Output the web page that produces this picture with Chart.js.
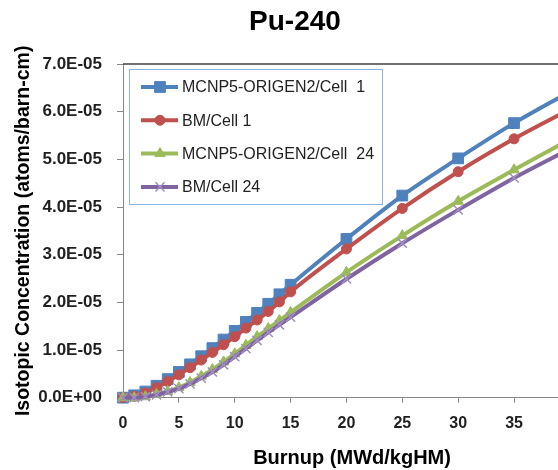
<!DOCTYPE html>
<html>
<head>
<meta charset="utf-8">
<script src="https://cdn.jsdelivr.net/npm/chart.js@4"></script>
<style>
  html, body { margin: 0; padding: 0; background: #fff; overflow: hidden; }
  #wrap { width: 590px; height: 470px; }
</style>
</head>
<body>
<div id="wrap"><canvas id="grafico" width="590" height="470"></canvas></div>
<script>
// Burnup (MWd/kgHM)
const burnup = [0, 1, 2, 3, 4, 5, 6, 7, 8, 9, 10, 11, 12, 13, 14, 15, 20, 25, 30, 35, 40];

// Pu-240 (atoms/barn-cm)
const mcnpCell1 = [0, 0.05e-5, 0.13e-5, 0.25e-5, 0.39e-5, 0.54e-5, 0.70e-5, 0.87e-5, 1.04e-5, 1.22e-5, 1.40e-5,
                   1.59e-5, 1.78e-5, 1.97e-5, 2.17e-5, 2.37e-5, 3.33e-5, 4.24e-5, 5.02e-5, 5.76e-5, 6.42e-5];
const bmCell1 = [0, 0.03e-5, 0.10e-5, 0.21e-5, 0.34e-5, 0.48e-5, 0.63e-5, 0.79e-5, 0.95e-5, 1.11e-5, 1.28e-5,
                 1.46e-5, 1.63e-5, 1.81e-5, 2.01e-5, 2.22e-5, 3.12e-5, 3.97e-5, 4.74e-5, 5.43e-5, 6.05e-5];
const mcnpCell24 = [0, 0.00e-5, 0.02e-5, 0.07e-5, 0.13e-5, 0.21e-5, 0.32e-5, 0.45e-5, 0.59e-5, 0.75e-5, 0.92e-5,
                    1.10e-5, 1.28e-5, 1.45e-5, 1.62e-5, 1.79e-5, 2.63e-5, 3.40e-5, 4.12e-5, 4.78e-5, 5.42e-5];
const bmCell24 = [0, 0.00e-5, 0.02e-5, 0.06e-5, 0.12e-5, 0.19e-5, 0.29e-5, 0.41e-5, 0.54e-5, 0.69e-5, 0.86e-5,
                  1.03e-5, 1.20e-5, 1.37e-5, 1.53e-5, 1.69e-5, 2.49e-5, 3.24e-5, 3.94e-5, 4.61e-5, 5.22e-5];

const nomesSeries = ["MCNP5-ORIGEN2/Cell  1", "BM/Cell 1", "MCNP5-ORIGEN2/Cell  24", "BM/Cell 24"];

const FONTE = "'Liberation Sans', Arial, sans-serif";

function pontos(valores) {
    return burnup.map((b, i) => ({ x: b, y: valores[i] }));
}

// 7.0E-05 style
function formatarExp(v) {
    if (v === 0) return "0.0E+00";
    let exp = Math.floor(Math.log10(Math.abs(v)) + 1e-9);
    let mant = v / Math.pow(10, exp);
    let sinal = exp < 0 ? "-" : "+";
    return mant.toFixed(1) + "E" + sinal + String(Math.abs(exp)).padStart(2, "0");
}

// top border of the plot area
const bordaTopo = {
    id: "bordaTopo",
    beforeDatasetsDraw(chart) {
        const { ctx, chartArea } = chart;
        ctx.save();
        ctx.strokeStyle = "#404040";
        ctx.lineWidth = 1.5;
        ctx.beginPath();
        ctx.moveTo(chartArea.left, chartArea.top);
        ctx.lineTo(chartArea.right, chartArea.top);
        ctx.stroke();
        ctx.restore();
    }
};

// legend box inside the plot, Excel style
const legendaCaixa = {
    id: "legendaCaixa",
    afterDraw(chart) {
        const ctx = chart.ctx;
        const x0 = 129, y0 = 69, w = 253, h = 135;
        ctx.save();
        ctx.fillStyle = "#fff";
        ctx.fillRect(x0, y0, w, h);
        ctx.strokeStyle = "#8eb4e3";
        ctx.lineWidth = 1;
        ctx.strokeRect(x0 + 0.5, y0 + 0.5, w, h);
        chart.data.datasets.forEach((ds, i) => {
            const y = 87 + i * 33.3;
            ctx.strokeStyle = ds.borderColor;
            ctx.lineWidth = ds.borderWidth;
            ctx.beginPath();
            ctx.moveTo(141, y);
            ctx.lineTo(178, y);
            ctx.stroke();
            ctx.fillStyle = ds.pointBackgroundColor;
            ctx.strokeStyle = ds.pointBorderColor;
            ctx.lineWidth = ds.pointBorderWidth;
            Chart.helpers.drawPoint(ctx, {
                pointStyle: ds.pointStyle, radius: ds.pointRadius, rotation: 0, borderWidth: ds.pointBorderWidth
            }, 160, y);
            ctx.fillStyle = "#222";
            ctx.font = "16px " + FONTE;
            ctx.textBaseline = "middle";
            ctx.textAlign = "left";
            ctx.fillText(nomesSeries[i], 182, y + 1);
        });
        ctx.restore();
    }
};

function serie(nome, valores, cor, estilo, raio, corPonto, larguraPonto, ordem) {
    return {
        label: nome,
        data: pontos(valores),
        borderColor: cor,
        backgroundColor: cor,
        borderWidth: 4,
        pointStyle: estilo,
        pointRadius: raio,
        pointBackgroundColor: corPonto,
        pointBorderColor: corPonto,
        pointBorderWidth: larguraPonto,
        cubicInterpolationMode: "monotone",
        clip: { left: 12, top: 12, right: 0, bottom: 12 },
        order: ordem
    };
}

new Chart(document.getElementById("grafico"), {
    type: "line",
    data: {
        datasets: [
            serie(nomesSeries[0], mcnpCell1, "#4f81bd", "rect", 7.6, "#4f81bd", 1, 4),
            serie(nomesSeries[1], bmCell1, "#c0504d", "circle", 5, "#c0504d", 1, 3),
            serie(nomesSeries[2], mcnpCell24, "#9bbb59", "triangle", 6, "#9bbb59", 1, 2),
            serie(nomesSeries[3], bmCell24, "#8064a2", "crossRot", 6.5, "#a08ec2", 1.5, 1)
        ]
    },
    options: {
        responsive: false,
        animation: false,
        layout: { padding: 0 },
        plugins: {
            legend: { display: false },
            tooltip: { enabled: false },
            title: {
                display: true,
                text: "Pu-240",
                color: "#000",
                font: { family: FONTE, size: 28, weight: "bold", lineHeight: 1.2 },
                padding: { top: 5, bottom: 25.4 }
            }
        },
        scales: {
            x: {
                type: "linear",
                min: 0,
                max: 41,
                afterFit: s => { s.height = 72.3; },
                ticks: {
                    stepSize: 5,
                    includeBounds: false,
                    color: "#1f1f1f",
                    font: { family: FONTE, size: 16, weight: "bold" },
                    padding: 11,
                    maxRotation: 0
                },
                grid: { display: true, drawOnChartArea: false, drawTicks: true, tickLength: 5, color: "#868686" },
                border: { display: true, color: "#868686", width: 1 },
                title: {
                    display: true,
                    text: "Burnup (MWd/kgHM)",
                    color: "#000",
                    font: { family: FONTE, size: 20, weight: "bold", lineHeight: 1.2 },
                    padding: { top: 0, bottom: 0 }
                }
            },
            y: {
                min: 0,
                max: 7e-5,
                afterFit: s => { s.width = 123; },
                ticks: {
                    stepSize: 1e-5,
                    color: "#1f1f1f",
                    font: { family: FONTE, size: 17, weight: "bold" },
                    padding: 15,
                    callback: v => formatarExp(v)
                },
                grid: { display: true, drawOnChartArea: false, drawTicks: true, tickLength: 6, color: "#868686" },
                border: { display: true, color: "#868686", width: 1 },
                title: {
                    display: true,
                    text: "Isotopic Concentration (atoms/barn-cm)",
                    color: "#000",
                    font: { family: FONTE, size: 19.5, weight: "bold", lineHeight: 1.2 },
                    padding: { top: 12, bottom: 0 }
                }
            }
        }
    },
    plugins: [bordaTopo, legendaCaixa]
});
</script>
</body>
</html>
